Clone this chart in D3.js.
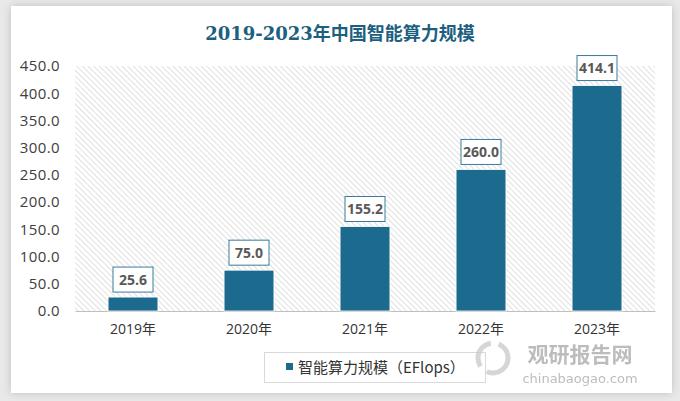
<!DOCTYPE html>
<html lang="zh">
<head>
<meta charset="UTF-8">
<title>2019-2023年中国智能算力规模</title>
<script src="https://cdn.jsdelivr.net/npm/d3@7"></script>
<style>
  body { margin: 0; background: #e9e9e9; }
</style>
</head>
<body>
<script>
// data
const years = ["2019年", "2020年", "2021年", "2022年", "2023年"];
const power = [25.6, 75.0, 155.2, 260.0, 414.1];
const yTicks = [0, 50, 100, 150, 200, 250, 300, 350, 400, 450];
const seriesName = "智能算力规模（EFlops）";

const width = 680, height = 401;
const margin = { left: 75, right: 25, top: 66, bottom: 90 };

const svg = d3.select("body").append("svg")
  .attr("width", width)
  .attr("height", height)
  .style("display", "block");

const defs = svg.append("defs");

// soft shadow round the card
const sh = defs.append("filter").attr("id", "shadow")
  .attr("x", "-5%").attr("y", "-5%").attr("width", "110%").attr("height", "110%");
sh.append("feDropShadow").attr("dx", 0).attr("dy", 0).attr("stdDeviation", 4)
  .attr("flood-color", "#000").attr("flood-opacity", 0.18);

// diagonal hatch for the plot area (lines run down to the right)
const pat = defs.append("pattern").attr("id", "hatch")
  .attr("patternUnits", "userSpaceOnUse")
  .attr("width", 4).attr("height", 4)
  .attr("patternTransform", "rotate(45)");
pat.append("rect").attr("width", 4).attr("height", 4).attr("fill", "#fff");
pat.append("line").attr("x1", 0).attr("y1", 0).attr("x2", 4).attr("y2", 0)
  .attr("stroke", "#d9d9d9").attr("stroke-width", 1.6);

svg.append("rect").attr("width", width).attr("height", height).attr("fill", "#e9e9e9");
svg.append("rect")
  .attr("x", 11).attr("y", 6).attr("width", 661).attr("height", 387)
  .attr("fill", "#fff").attr("filter", "url(#shadow)");

// title
svg.append("text")
  .attr("x", 340).attr("y", 40)
  .attr("text-anchor", "middle")
  .attr("font-family", "'DejaVu Serif', 'Liberation Serif', 'Noto Sans CJK SC', serif")
  .attr("font-size", 18).attr("font-weight", "bold")
  .attr("fill", "#1d5f80")
  .text("2019-2023年中国智能算力规模");

const x = d3.scaleBand()
  .domain(years)
  .range([margin.left, width - margin.right])
  .paddingInner(0.57).paddingOuter(0.285);

const y = d3.scaleLinear()
  .domain([0, 450])
  .range([311, margin.top]);

// hatched plot background
svg.append("rect")
  .attr("x", margin.left).attr("y", y(450))
  .attr("width", width - margin.right - margin.left)
  .attr("height", y(0) - y(450))
  .attr("fill", "url(#hatch)");

// y axis labels
const yAxis = svg.append("g")
  .attr("transform", `translate(${margin.left},0)`)
  .call(d3.axisLeft(y).tickValues(yTicks).tickFormat(d3.format(".1f")).tickSize(0).tickPadding(15));
yAxis.select(".domain").remove();
yAxis.selectAll("text")
  .attr("font-family", "'Open Sans', 'Noto Sans', sans-serif")
  .attr("font-size", 15).attr("letter-spacing", 0.4).attr("fill", "#404040");

// baseline + x labels
const xAxis = svg.append("g")
  .attr("transform", `translate(0,${y(0)})`)
  .call(d3.axisBottom(x).tickSize(0).tickPadding(13));
xAxis.select(".domain").attr("stroke", "#bfbfbf").attr("stroke-width", 1);
xAxis.selectAll("text")
  .attr("font-family", "'Open Sans', 'Noto Sans CJK SC', sans-serif")
  .attr("font-size", 14).attr("fill", "#333");

// bars
svg.append("g").selectAll("rect")
  .data(power)
  .join("rect")
  .attr("x", (d, i) => x(years[i]))
  .attr("y", d => y(d))
  .attr("width", x.bandwidth())
  .attr("height", d => y(0) - y(d))
  .attr("fill", "#1c6b8e")
  .attr("stroke", "#fff").attr("stroke-width", 0.8);

// value boxes
const lab = svg.append("g").selectAll("g")
  .data(power)
  .join("g")
  .attr("transform", (d, i) => `translate(${x(years[i]) + x.bandwidth() / 2},${y(d) - 5})`);
lab.append("rect")
  .attr("x", -20).attr("y", -25).attr("width", 40).attr("height", 25)
  .attr("fill", "#fff").attr("stroke", "#3a7c9a").attr("stroke-width", 1);
lab.append("text")
  .attr("y", -7.5)
  .attr("text-anchor", "middle")
  .attr("font-family", "'Open Sans', 'Noto Sans', sans-serif")
  .attr("font-size", 14).attr("font-weight", "bold")
  .attr("fill", "#595959")
  .text(d => d.toFixed(1));

// legend
svg.append("rect")
  .attr("x", 264.5).attr("y", 352.5).attr("width", 221).attr("height", 30)
  .attr("fill", "#fff").attr("stroke", "#d9d9d9");
svg.append("rect")
  .attr("x", 286).attr("y", 363).attr("width", 7).attr("height", 7)
  .attr("fill", "#1c6b8e");
svg.append("text")
  .attr("x", 298).attr("y", 373)
  .attr("font-family", "'Noto Sans CJK SC', sans-serif")
  .attr("font-size", 15).attr("fill", "#333")
  .text(seriesName);

// watermark
const wm = svg.append("g").attr("opacity", 0.75);
wm.append("circle").attr("cx", 493).attr("cy", 358).attr("r", 15)
  .attr("fill", "none").attr("stroke", "#c8c8c8").attr("stroke-width", 5)
  .attr("stroke-dasharray", "30 8");
wm.append("text")
  .attr("x", 580).attr("y", 362).attr("text-anchor", "middle")
  .attr("font-family", "'Noto Sans CJK SC', sans-serif")
  .attr("font-size", 21).attr("font-weight", "bold").attr("fill", "#a6a6a6")
  .text("观研报告网");
wm.append("text")
  .attr("x", 580).attr("y", 383).attr("text-anchor", "middle")
  .attr("font-family", "'DejaVu Sans', sans-serif")
  .attr("font-size", 13).attr("fill", "#a6a6a6")
  .text("chinabaogao.com");
</script>
</body>
</html>
